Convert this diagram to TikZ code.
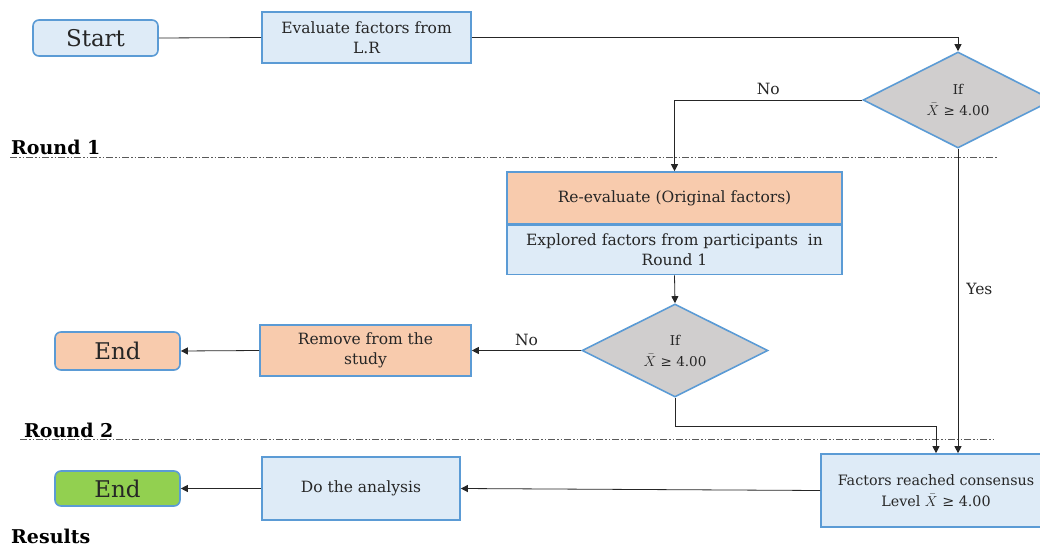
\documentclass[tikz,border=0pt]{standalone}
\usepackage{fontspec}
\setmainfont{DejaVu Serif}
\usetikzlibrary{shapes.geometric,arrows.meta}
\definecolor{boxblue}{HTML}{DEEBF7}
\definecolor{edgeblue}{HTML}{5B9BD5}
\definecolor{boxorange}{HTML}{F8CBAD}
\definecolor{boxgray}{HTML}{D0CECE}
\definecolor{boxgreen}{HTML}{92D050}
\newcommand{\xbar}{\(\bar{X}\)}
\tikzset{
  base/.style={draw=edgeblue, line width=1.6pt, align=center, inner sep=0pt, text=black!85},
  pill/.style={base, rounded corners=6pt, font=\fontsize{23}{26}\selectfont},
  stepbox/.style={base, rectangle, font=\fontsize{15.5}{20}\selectfont},
  decide/.style={base, diamond, aspect=2, fill=boxgray, font=\fontsize{13.5}{21}\selectfont},
  conn/.style={line width=0.8pt, black!85},
  arr/.style={conn, -{Triangle[length=7pt,width=7pt]}},
  roundline/.style={line width=0.8pt, black!65, dash pattern=on 7pt off 2pt on 1.5pt off 2pt on 1.5pt off 2pt},
  roundlabel/.style={anchor=base west, font=\fontsize{19}{22}\selectfont\bfseries, inner sep=0pt},
  lbl/.style={font=\fontsize{15.5}{19}\selectfont, inner sep=0pt}
}
\begin{document}
\begin{tikzpicture}[x=1pt,y=-1pt]
\useasboundingbox (0,0) rectangle (1040,548);

% phase separators
\draw[roundline] (10,157) -- (997,157);
\draw[roundline] (20,439) -- (993,439);
\node[roundlabel] (r1) at (11,154) {Round 1};
\node[roundlabel] (r2) at (24,437) {Round 2};
\node[roundlabel] (res) at (11,543) {Results};

% nodes
\node[pill, fill=boxblue, minimum width=125, minimum height=36] (start) at (95.5,38) {Start};
\node[stepbox, fill=boxblue, minimum width=209, minimum height=51] (eval) at (366.5,37.5) {Evaluate factors from\\L.R};
\node[decide, minimum width=190, minimum height=96] (d1) at (958,100) {If\\\xbar\ ≥ 4.00};

\node[stepbox, fill=boxorange, minimum width=335, minimum height=52] (reeval) at (674.5,198) {Re-evaluate (Original factors)};
\node[stepbox, fill=boxblue, minimum width=335, minimum height=49, anchor=north] (explored) at (reeval.south) {Explored factors from participants\ \ in\\Round 1};

\node[decide, minimum width=186, minimum height=93] (d2) at (675,350.5) {If\\\xbar\ ≥ 4.00};
\node[stepbox, fill=boxorange, minimum width=211, minimum height=51] (remove) at (365.5,350.5) {Remove from the\\study};
\node[pill, fill=boxorange, minimum width=125, minimum height=38] (end1) at (117.5,351) {End};

\node[stepbox, fill=boxblue, minimum width=230, minimum height=73, font=\fontsize{14.3}{21}\selectfont] (cons) at (936,490.5) {Factors reached consensus\\Level \xbar\ ≥ 4.00};
\node[stepbox, fill=boxblue, minimum width=198, minimum height=63] (anal) at (361,488.5) {Do the analysis};
\node[pill, fill=boxgreen, minimum width=125, minimum height=35] (end2) at (117.5,488.5) {End};

% connectors
\draw[conn] (start.east) -- (eval.west);
\draw[arr] (eval.east) -| (d1.north);
\draw[arr] (d1.west) -| node[lbl, pos=0.25, above=5pt] {No} (reeval.north);
\draw[arr] (explored.south) -- (d2.north);
\draw[arr] (d2.west) -- node[lbl, pos=0.5, above=4pt] {No} (remove.east);
\draw[arr] (remove.west) -- (end1.east);
\coordinate (bend) at (936,426);
\draw[arr] (d2.south) |- (bend) -- (cons.north);
\draw[arr] (d1.south) -- node[lbl, pos=0.46, right=8pt] {Yes} (cons.north -| d1.south);
\draw[arr] (cons.west) -- (anal.east);
\draw[arr] (anal.west) -- (end2.east);
\end{tikzpicture}
\end{document}
